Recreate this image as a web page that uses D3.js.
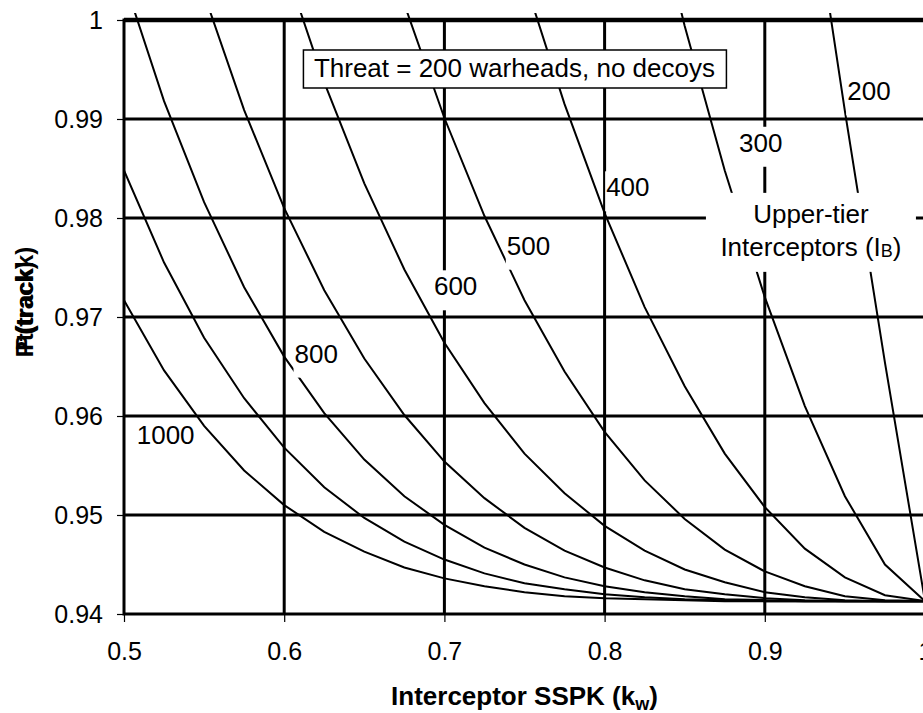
<!DOCTYPE html>
<html>
<head>
<meta charset="utf-8">
<script src="https://cdn.jsdelivr.net/npm/d3@7"></script>
<style>
  body { margin: 0; background: #fff; }
  text { font-family: "Liberation Sans", Arial, sans-serif; fill: #000; }
</style>
</head>
<body>
<div id="chart"></div>
<script>
// SSPK values (x) and P(track) for each upper-tier interceptor count
var sspk = [0.5, 0.525, 0.55, 0.575, 0.6, 0.625, 0.65, 0.675, 0.7, 0.725, 0.75,
            0.775, 0.8, 0.825, 0.85, 0.875, 0.9, 0.925, 0.95, 0.975, 1.0]

var interceptors = [200, 300, 400, 500, 600, 700, 800, 900, 1000]

var n = null
var p200 = [n, n, n, n, n, n, n, n, n, n, n, n, n, n, n, n, n, 1.0176, 0.9908, 0.9654, 0.9413]
var p300 = [n, n, n, n, n, n, n, n, n, n, n, n, n, 1.0157, 0.9994, 0.9848, 0.9720, 0.9610, 0.9519, 0.9450, 0.9413]
var p400 = [n, n, n, n, n, n, n, n, n, n, 1.0041, 0.9915, 0.9805, 0.9710, 0.9630, 0.9562, 0.9508, 0.9466, 0.9437, 0.9419, 0.9413]
var p500 = [n, n, n, n, n, n, n, 1.0016, 0.9901, 0.9802, 0.9717, 0.9645, 0.9584, 0.9535, 0.9496, 0.9465, 0.9443, 0.9428, 0.9418, 0.9414, 0.9413]
var p600 = [n, n, n, n, 1.0057, 0.9937, 0.9835, 0.9748, 0.9674, 0.9613, 0.9562, 0.9522, 0.9489, 0.9464, 0.9445, 0.9432, 0.9422, 0.9417, 0.9414, 0.9413, 0.9413]
var p700 = [n, n, 1.0026, 0.9909, 0.9810, 0.9727, 0.9658, 0.9601, 0.9554, 0.9517, 0.9487, 0.9464, 0.9447, 0.9434, 0.9425, 0.9420, 0.9416, 0.9414, 0.9413, 0.9413, 0.9413]
var p800 = [1.0041, 0.9918, 0.9816, 0.9730, 0.9660, 0.9603, 0.9556, 0.9519, 0.9490, 0.9467, 0.9450, 0.9437, 0.9428, 0.9422, 0.9418, 0.9415, 0.9414, 0.9413, 0.9413, 0.9413, 0.9413]
var p900 = [0.9848, 0.9755, 0.9679, 0.9618, 0.9568, 0.9528, 0.9497, 0.9473, 0.9455, 0.9441, 0.9431, 0.9425, 0.9420, 0.9417, 0.9415, 0.9414, 0.9413, 0.9413, 0.9413, 0.9413, 0.9413]
var p1000 = [0.9717, 0.9646, 0.9590, 0.9545, 0.9510, 0.9483, 0.9463, 0.9447, 0.9436, 0.9428, 0.9422, 0.9418, 0.9416, 0.9415, 0.9414, 0.9413, 0.9413, 0.9413, 0.9413, 0.9413, 0.9413]

var series = [p200, p300, p400, p500, p600, p700, p800, p900, p1000]

var xTicks = [0.5, 0.6, 0.7, 0.8, 0.9, 1]
var yTicks = [0.94, 0.95, 0.96, 0.97, 0.98, 0.99, 1]

// curve labels: which count, and where it sits (data coords)
var labelNames = ["200", "300", "400", "500", "600", "800", "1000"]
var labelK = [0.965, 0.8975, 0.8145, 0.7525, 0.707, 0.62, 0.526]
var labelP = [0.9928, 0.9876, 0.9831, 0.9772, 0.9731, 0.9663, 0.9581]

var W = 923, H = 713
var pl = 124, pr = 925, pt = 20, pb = 614

var x = d3.scaleLinear().domain([0.5, 1]).range([pl, pr])
var y = d3.scaleLinear().domain([0.94, 1]).range([pb, pt])

var svg = d3.select("#chart").append("svg")
  .attr("width", W)
  .attr("height", H)

svg.append("rect").attr("width", W).attr("height", H).attr("fill", "#fff")

svg.append("clipPath").attr("id", "plotclip")
  .append("rect")
  .attr("x", pl).attr("y", pt - 7)
  .attr("width", pr - pl).attr("height", pb - pt + 7)

// gridlines
var grid = svg.append("g").attr("stroke", "#000").attr("stroke-width", 3)
grid.selectAll("line.h")
  .data(yTicks.slice(1, -1))
  .join("line")
  .attr("class", "h")
  .attr("x1", pl).attr("x2", pr)
  .attr("y1", d => y(d)).attr("y2", d => y(d))
grid.selectAll("line.v")
  .data(xTicks.slice(1, -1))
  .join("line")
  .attr("class", "v")
  .attr("y1", pt).attr("y2", pb)
  .attr("x1", d => x(d)).attr("x2", d => x(d))

// curves
var line = d3.line()
  .defined(d => d != null)
  .x((d, i) => x(sspk[i]))
  .y(d => y(d))

svg.append("g")
  .attr("clip-path", "url(#plotclip)")
  .selectAll("path")
  .data(series)
  .join("path")
  .attr("d", line)
  .attr("fill", "none")
  .attr("stroke", "#000")
  .attr("stroke-width", 2)

// frame
svg.append("rect")
  .attr("x", pl).attr("y", pt)
  .attr("width", pr - pl).attr("height", pb - pt)
  .attr("fill", "none").attr("stroke", "#000").attr("stroke-width", 3)
svg.append("line")
  .attr("x1", pl).attr("x2", pr).attr("y1", pt).attr("y2", pt)
  .attr("stroke", "#000").attr("stroke-width", 4.5)

// axes
var yAxis = svg.append("g")
  .attr("transform", `translate(${pl},0)`)
  .call(d3.axisLeft(y).tickValues(yTicks).tickSize(7).tickPadding(14)
    .tickFormat(d => d == 1 ? "1" : d3.format(".2f")(d)))
var xAxis = svg.append("g")
  .attr("transform", `translate(0,${pb})`)
  .call(d3.axisBottom(x).tickValues(xTicks).tickSize(8).tickPadding(20)
    .tickFormat(d => d == 1 ? "1" : d3.format(".1f")(d)))

;[xAxis, yAxis].forEach(function (a) {
  a.select(".domain").remove()
  a.selectAll(".tick line").attr("stroke", "#000").attr("stroke-width", 1.2)
  a.selectAll(".tick text")
    .style("font-family", '"Liberation Sans", Arial, sans-serif')
    .style("font-size", "25px")
    .attr("fill", "#000")
})

// axis titles
var xt = svg.append("text")
  .attr("x", (pl + pr) / 2).attr("y", 705)
  .attr("text-anchor", "middle")
  .style("font-size", "26px").style("font-weight", "bold")
xt.append("tspan").text("Interceptor SSPK (k")
xt.append("tspan").text("w").style("font-size", "18px").attr("dy", 5)
xt.append("tspan").text(")").attr("dy", -5)

var ytG = svg.append("g").attr("transform", "translate(33,306) rotate(-90)")
ytG.append("text").attr("text-anchor", "middle")
  .style("font-size", "24px").style("font-weight", "bold")
  .text("P(track)")
ytG.append("text").attr("text-anchor", "middle").attr("x", 4)
  .style("font-size", "24px").style("font-weight", "bold")
  .text("Pt(trackk)")

// threat box
var tbX = x(0.612), tbY = y(0.99697)
var tb = svg.append("g")
tb.append("rect")
  .attr("x", tbX).attr("y", tbY)
  .attr("width", 423).attr("height", 38)
  .attr("fill", "#fff").attr("stroke", "#000").attr("stroke-width", 1.5)
tb.append("text")
  .attr("x", tbX + 211).attr("y", tbY + 27)
  .attr("text-anchor", "middle")
  .style("font-size", "26px")
  .text("Threat = 200 warheads, no decoys")

// curve labels with white backing
var lab = svg.append("g").selectAll("g")
  .data(labelNames)
  .join("g")
  .attr("transform", (d, i) => `translate(${x(labelK[i])},${y(labelP[i])})`)
lab.append("text")
  .attr("text-anchor", "middle")
  .attr("dy", 9)
  .style("font-size", "26px")
  .text(d => d)
lab.each(function () {
  var b = d3.select(this).select("text").node().getBBox()
  d3.select(this).insert("rect", "text")
    .attr("x", b.x - 1).attr("y", -16)
    .attr("width", b.width + 2).attr("height", 40)
    .attr("fill", "#fff")
})

// series title block
var ut = svg.append("g").attr("transform", `translate(${x(0.9288)},${y(0.9786)})`)
ut.append("rect")
  .attr("x", -105).attr("y", -39)
  .attr("width", 210).attr("height", 79)
  .attr("fill", "#fff")
ut.append("text").attr("text-anchor", "middle").attr("y", -9)
  .style("font-size", "26px").text("Upper-tier")
var ut2 = ut.append("text").attr("text-anchor", "middle").attr("y", 24)
  .style("font-size", "26px")
ut2.append("tspan").text("Interceptors (I")
ut2.append("tspan").text("B").style("font-size", "18px").attr("dy", 1)
ut2.append("tspan").text(")").attr("dy", -1)
</script>
</body>
</html>
